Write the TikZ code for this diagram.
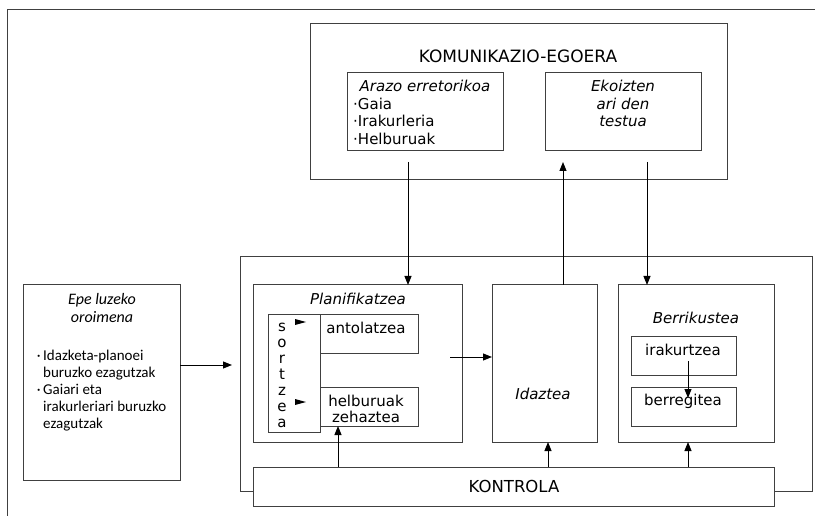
\documentclass[tikz,border=0pt]{standalone}
\usepackage{fontspec}
\setmainfont{DejaVu Sans}
\newfontfamily\calib{Carlito}
\usetikzlibrary{arrows.meta}
\begin{document}
\begin{tikzpicture}[x=1pt,y=-1pt,
  box/.style={draw=black!75,line width=1pt,inner sep=0pt,outer sep=0pt,fill=white},
  txt/.style={inner sep=0pt,anchor=base,text=black,font=\fontsize{15}{17.5}\selectfont},
  itxt/.style={txt,font=\fontsize{15}{17.5}\selectfont\itshape},
  ctxt/.style={txt,font=\calib\fontsize{15}{17}\selectfont},
  arr/.style={draw=black,line width=1pt,-{Triangle[length=9pt,width=7pt]}},
  ln/.style={draw=black!75,line width=1pt}]
\useasboundingbox (0,0) rectangle (815,516);
\fill[white] (0,0) rectangle (815,516);

% outer partial frame
\coordinate (fr1) at (815,10);
\coordinate (fr2) at (7,10);
\coordinate (fr3) at (7,516);
\draw[ln] (fr1) -- (fr2) -- (fr3);

% boxes
\node[box,minimum width=417pt,minimum height=156pt] (kom) at (518.5,102) {};
\node[box,minimum width=156pt,minimum height=78pt] (arazo) at (425,112) {};
\node[box,minimum width=156pt,minimum height=78pt] (ekoiz) at (623,112) {};
\node[box,minimum width=572pt,minimum height=234pt] (big) at (526,374) {};
\node[box,minimum width=157pt,minimum height=195pt] (epe) at (101.5,382.5) {};
\node[box,minimum width=209pt,minimum height=157pt] (plan) at (357.5,363.5) {};
\node[box,minimum width=52pt,minimum height=118pt] (sortz) at (294,373) {};
\node[box,minimum width=98pt,minimum height=39pt] (antol) at (369,333.5) {};
\node[box,minimum width=98pt,minimum height=39pt] (helb) at (369,406.5) {};
\node[box,minimum width=105pt,minimum height=157pt] (idaz) at (544.5,363.5) {};
\node[box,minimum width=156pt,minimum height=157pt] (berri) at (696,363.5) {};
\node[box,minimum width=105pt,minimum height=39pt] (irak) at (683.5,355.5) {};
\node[box,minimum width=105pt,minimum height=39pt] (berreg) at (683.5,406.5) {};
\node[box,minimum width=521pt,minimum height=39pt] (kontr) at (513.5,486.5) {};

% texts
\node[txt,font=\fontsize{17}{20}\selectfont] (tkom) at (518,63) {KOMUNIKAZIO-EGOERA};
\node[itxt] (tarazo) at (425,92) {Arazo erretorikoa};
\node[txt,anchor=base west] (tg1) at (353,109.5) {·Gaia};
\node[txt,anchor=base west] (tg2) at (353,127) {·Irakurleria};
\node[txt,anchor=base west] (tg3) at (353,144.5) {·Helburuak};
\node[itxt] (te1) at (623,92) {Ekoizten};
\node[itxt] (te2) at (623,109.5) {ari den};
\node[itxt] (te3) at (623,127) {testua};

\node[ctxt,font=\calib\itshape\fontsize{16}{18}\selectfont] (tepe1) at (102,305) {Epe luzeko};
\node[ctxt,font=\calib\itshape\fontsize{16}{18}\selectfont] (tepe2) at (102,323) {oroimena};
\node[ctxt,anchor=base west] (tl1) at (43,360) {\llap{·\hspace{2.5pt}}Idazketa-planoei};
\node[ctxt,anchor=base west] (tl2) at (43,377) {buruzko ezagutzak};
\node[ctxt,anchor=base west] (tl3) at (43,394) {\llap{·\hspace{2.5pt}}Gaiari eta};
\node[ctxt,anchor=base west] (tl4) at (43,411) {irakurleriari buruzko};
\node[ctxt,anchor=base west] (tl5) at (43,428) {ezagutzak};

\node[itxt] (tplan) at (358,304.5) {Planifikatzea};
\node[txt] (s1) at (282,331) {s};
\node[txt] (s2) at (282,347) {o};
\node[txt] (s3) at (282,363) {r};
\node[txt] (s4) at (282,379) {t};
\node[txt] (s5) at (282,395) {z};
\node[txt] (s6) at (282,411) {e};
\node[txt] (s7) at (282,427) {a};
\fill[black] (295,319) -- (306,322) -- (295,325) -- cycle;
\fill[black] (295,399) -- (306,402) -- (295,405) -- cycle;
\node[txt] (tantol) at (366,333.5) {antolatzea};
\node[txt] (thelb1) at (366,406.5) {helburuak};
\node[txt] (thelb2) at (366,422.5) {zehaztea};
\node[itxt] (tidaz) at (543,399.5) {Idaztea};
\node[itxt] (tberri) at (696,323.5) {Berrikustea};
\node[txt] (tirak) at (683,355.5) {irakurtzea};
\node[txt] (tberreg) at (683,405) {berregitea};
\node[txt,font=\fontsize{16.5}{20}\selectfont] (tkontr) at (514,492) {KONTROLA};

% connectors
\coordinate (c1) at (408,162);
\coordinate (c2) at (563,162);
\coordinate (c3) at (647,162);
\draw[arr] (c1) -- (c1 |- plan.north);
\draw[arr] (c2 |- idaz.north) -- (c2);
\draw[arr] (c3) -- (c3 |- berri.north);
\coordinate (c4) at (232,365);
\draw[arr] (epe.east |- c4) -- (c4);
\coordinate (c5) at (450,357);
\draw[arr] (c5) -- (c5 -| idaz.west);
\coordinate (c6) at (338,0);
\coordinate (c7) at (548,0);
\coordinate (c8) at (688,0);
\draw[arr] (c6 |- kontr.north) -- (c6 |- helb.south);
\draw[arr] (c7 |- kontr.north) -- (c7 |- idaz.south);
\draw[arr] (c8 |- kontr.north) -- (c8 |- berri.south);
\coordinate (c9) at (688,361);
\coordinate (c10) at (688,398);
\draw[arr] (c9) -- (c10);
\end{tikzpicture}
\end{document}
